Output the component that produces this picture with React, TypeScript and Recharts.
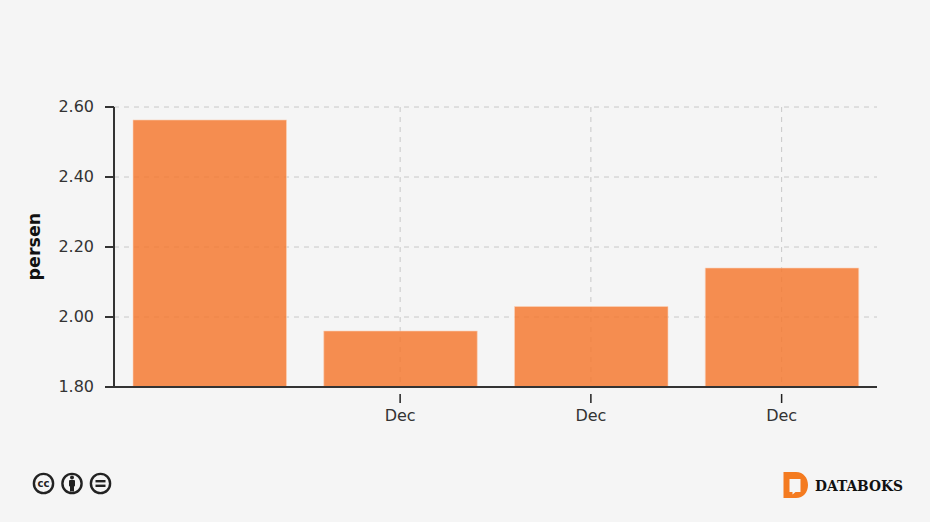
import { BarChart, Bar, XAxis, YAxis, CartesianGrid } from 'recharts'

const PERIOD_INDEX = [0, 1, 2, 3]
const PERIOD_LABELS = ['', 'Dec', 'Dec', 'Dec']
const VALUES = [2.563, 1.96, 2.03, 2.14]
const LABELLED_TICKS = [1, 2, 3]
const Y_TICKS = [1.8, 2.0, 2.2, 2.4, 2.6]

const data = PERIOD_INDEX.map((idx, i) => ({ idx, value: VALUES[i] }))

const FONT = 'Verdana, "DejaVu Sans", sans-serif'

function CcBadges() {
  return (
    <svg width={90} height={24} style={{ position: 'absolute', left: 32, top: 472 }}>
      <g fill="none" stroke="#222" strokeWidth={2.4}>
        <circle cx={11.5} cy={11.5} r={9.6} />
        <circle cx={40} cy={11.5} r={9.6} />
        <circle cx={68.5} cy={11.5} r={9.6} />
      </g>
      <text x={11.5} y={15} textAnchor="middle" fontFamily={FONT} fontSize={10} fontWeight={700} fill="#222">cc</text>
      <g fill="#222">
        <circle cx={40} cy={5.5} r={2} />
        <rect x={37} y={8} width={6} height={6.5} rx={1} />
        <rect x={38} y={14} width={4} height={5.5} />
        <rect x={63.5} y={8} width={10} height={2.4} />
        <rect x={63.5} y={12.6} width={10} height={2.4} />
      </g>
    </svg>
  )
}

function DataboksLogo() {
  return (
    <svg width={150} height={30} style={{ position: 'absolute', left: 780, top: 471 }}>
      <path
        d="M3.5 1 H16 C23.5 1 28 7 28 14 C28 21 23.5 27 16 27 H3.5 Z M9.5 8 V21 H12.5 L12.5 23.5 L15.5 21 H20.5 V8 Z"
        fill="#f47b20"
        fillRule="evenodd"
      />
      <text x={35} y={20} fontFamily='"DejaVu Serif", serif' fontWeight={700} fontSize={15} fill="#111" textLength={88} lengthAdjust="spacingAndGlyphs">
        DATABOKS
      </text>
    </svg>
  )
}

function XTick({ x, y, payload }: any) {
  return (
    <g>
      <line x1={x} x2={x} y1={y - 1} y2={y + 8} stroke="#222" strokeWidth={1.5} />
      <text x={x} y={y + 26} textAnchor="middle" fontFamily={FONT} fontSize={16} fill="#333">
        {PERIOD_LABELS[payload.value]}
      </text>
    </g>
  )
}

export default function App() {
  return (
    <div style={{ position: 'absolute', left: 0, top: 0, width: 930, height: 522, background: '#f5f5f5' }}>
      <BarChart width={930} height={522} data={data} margin={{ top: 107, right: 53, bottom: 95, left: 0 }} barCategoryGap={0}>
        <CartesianGrid stroke="#c8c8c8" strokeDasharray="5 5" syncWithTicks />
        <XAxis
          dataKey="idx"
          type="category"
          ticks={LABELLED_TICKS}
          height={40}
          axisLine={{ stroke: '#333', strokeWidth: 2 }}
          tickLine={false}
          interval={0}
          tick={<XTick />}
        />
        <YAxis
          width={114}
          domain={[1.8, 2.6]}
          ticks={Y_TICKS}
          tickFormatter={(v: number) => v.toFixed(2)}
          axisLine={{ stroke: '#333', strokeWidth: 2 }}
          tickLine={{ stroke: '#333', strokeWidth: 2 }}
          tickSize={9}
          tickMargin={11}
          tick={{ fontFamily: FONT, fontSize: 16, fill: '#333', dy: -0.5 }}
          label={{ value: 'persen', angle: -90, position: 'insideLeft', dx: 29, dy: 33.5, style: { fontFamily: FONT, fontSize: 17.5, fontWeight: 700, fill: '#111' } }}
        />
        <Bar dataKey="value" barSize={153.5} fill="#f47a33" fillOpacity={0.85} stroke="#fbd3bb" strokeOpacity={0.6} isAnimationActive={false} />
      </BarChart>
      <CcBadges />
      <DataboksLogo />
    </div>
  )
}
